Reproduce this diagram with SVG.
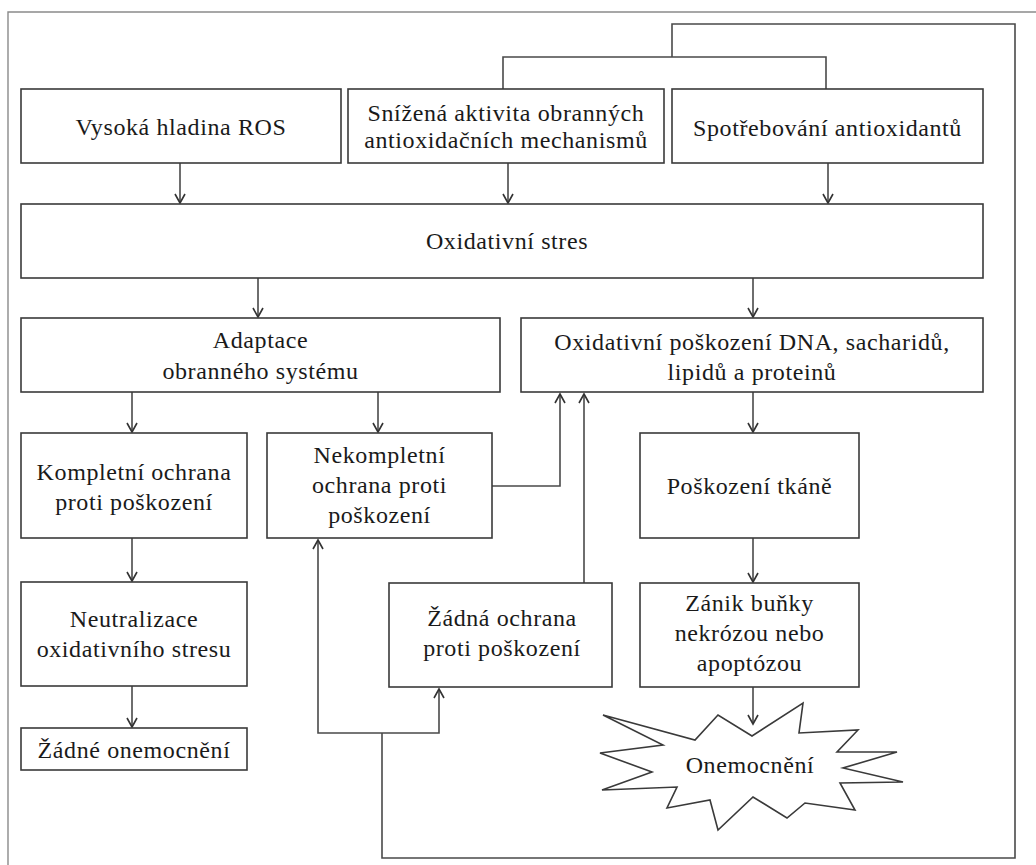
<svg xmlns="http://www.w3.org/2000/svg" width="1036" height="865" viewBox="0 0 1036 865">
<style>
.box{fill:#fff;stroke:#3a3a3a;stroke-width:1.6}
.t{font-family:"Liberation Serif","Times New Roman",serif;font-size:24px;fill:#1a1a1a;text-anchor:middle;letter-spacing:0.6px}
.c{fill:none;stroke:#4a4a4a;stroke-width:1.6}
.frame{fill:none;stroke:#8a8a8a;stroke-width:1.4}
</style>
<defs>
<marker id="a" viewBox="-11 -7 13 14" markerWidth="13" markerHeight="14" refX="0" refY="0" orient="auto" markerUnits="userSpaceOnUse">
<path d="M-9,-5 L0,0 L-9,5" fill="none" stroke="#333" stroke-width="1.6"/>
</marker>
</defs>
<rect width="1036" height="865" fill="#fff"/>
<path class="frame" d="M8,865 V12 H1036"/>

<g id="connectors">
<path class="c" d="M503,89 V57 H826 V89"/>
<path class="c" d="M672,57 V24 H1015 V858 H382 V733"/>
<path class="c" d="M382,733 H318 V540" marker-end="url(#a)"/>
<path class="c" d="M382,733 H439 V689" marker-end="url(#a)"/>
<path class="c" d="M180,163 V203" marker-end="url(#a)"/>
<path class="c" d="M508,163 V203" marker-end="url(#a)"/>
<path class="c" d="M828,163 V203" marker-end="url(#a)"/>
<path class="c" d="M258,278 V317" marker-end="url(#a)"/>
<path class="c" d="M753,278 V317" marker-end="url(#a)"/>
<path class="c" d="M132,392 V432" marker-end="url(#a)"/>
<path class="c" d="M378,392 V432" marker-end="url(#a)"/>
<path class="c" d="M492,486 H560 V394" marker-end="url(#a)"/>
<path class="c" d="M584,583 V394" marker-end="url(#a)"/>
<path class="c" d="M753,392 V432" marker-end="url(#a)"/>
<path class="c" d="M753,538 V582" marker-end="url(#a)"/>
<path class="c" d="M132,538 V581" marker-end="url(#a)"/>
<path class="c" d="M132,686 V727" marker-end="url(#a)"/>
<path class="c" d="M753,687 V724" marker-end="url(#a)"/>
</g>

<g id="n-ros"><rect class="box" x="21" y="89" width="320" height="74"/><text class="t" x="181" y="135">Vysoká hladina ROS</text></g>
<g id="n-snizena"><rect class="box" x="348" y="89" width="316" height="74"/><text class="t" x="506" y="121">Snížená aktivita obranných</text><text class="t" x="506" y="148">antioxidačních mechanismů</text></g>
<g id="n-spotreba"><rect class="box" x="672" y="89" width="311" height="74"/><text class="t" x="827.5" y="136">Spotřebování antioxidantů</text></g>
<g id="n-stres"><rect class="box" x="21" y="204" width="962" height="74"/><text class="t" x="507" y="249">Oxidativní stres</text></g>
<g id="n-adaptace"><rect class="box" x="21" y="318" width="479" height="74"/><text class="t" x="260.5" y="348">Adaptace</text><text class="t" x="260.5" y="379">obranného systému</text></g>
<g id="n-poskozeni"><rect class="box" x="521" y="318" width="462" height="74"/><text class="t" x="752" y="350">Oxidativní poškození DNA, sacharidů,</text><text class="t" x="752" y="380">lipidů a proteinů</text></g>
<g id="n-kompletni"><rect class="box" x="21" y="433" width="226" height="105"/><text class="t" x="134" y="480">Kompletní ochrana</text><text class="t" x="134" y="510">proti poškození</text></g>
<g id="n-nekompletni"><rect class="box" x="267" y="433" width="225" height="105"/><text class="t" x="379.5" y="463">Nekompletní</text><text class="t" x="379.5" y="493">ochrana proti</text><text class="t" x="379.5" y="523">poškození</text></g>
<g id="n-tkane"><rect class="box" x="640" y="433" width="219" height="105"/><text class="t" x="749.5" y="494">Poškození tkáně</text></g>
<g id="n-neutralizace"><rect class="box" x="21" y="582" width="226" height="104"/><text class="t" x="134" y="627">Neutralizace</text><text class="t" x="134" y="657">oxidativního stresu</text></g>
<g id="n-zadna"><rect class="box" x="389" y="583" width="223" height="104"/><text class="t" x="502" y="626">Žádná ochrana</text><text class="t" x="502" y="656">proti poškození</text></g>
<g id="n-zanik"><rect class="box" x="640" y="583" width="219" height="104"/><text class="t" x="749.5" y="611">Zánik buňky</text><text class="t" x="749.5" y="641">nekrózou nebo</text><text class="t" x="749.5" y="671">apoptózou</text></g>
<g id="n-zadne"><rect class="box" x="21" y="728" width="226" height="42"/><text class="t" x="134" y="758">Žádné onemocnění</text></g>
<g id="n-onemocneni"><polygon class="box" points="603,715 695,740 718,715 752,736 803,703 799,733 858,730 837,752 897,752 843,768 903,782 840,783 855,810 805,803 787,818 753,797 718,830 710,800 667,808 677,787 602,790 652,772 600,753 663,745"/><text class="t" x="750" y="773">Onemocnění</text></g>
</svg>
